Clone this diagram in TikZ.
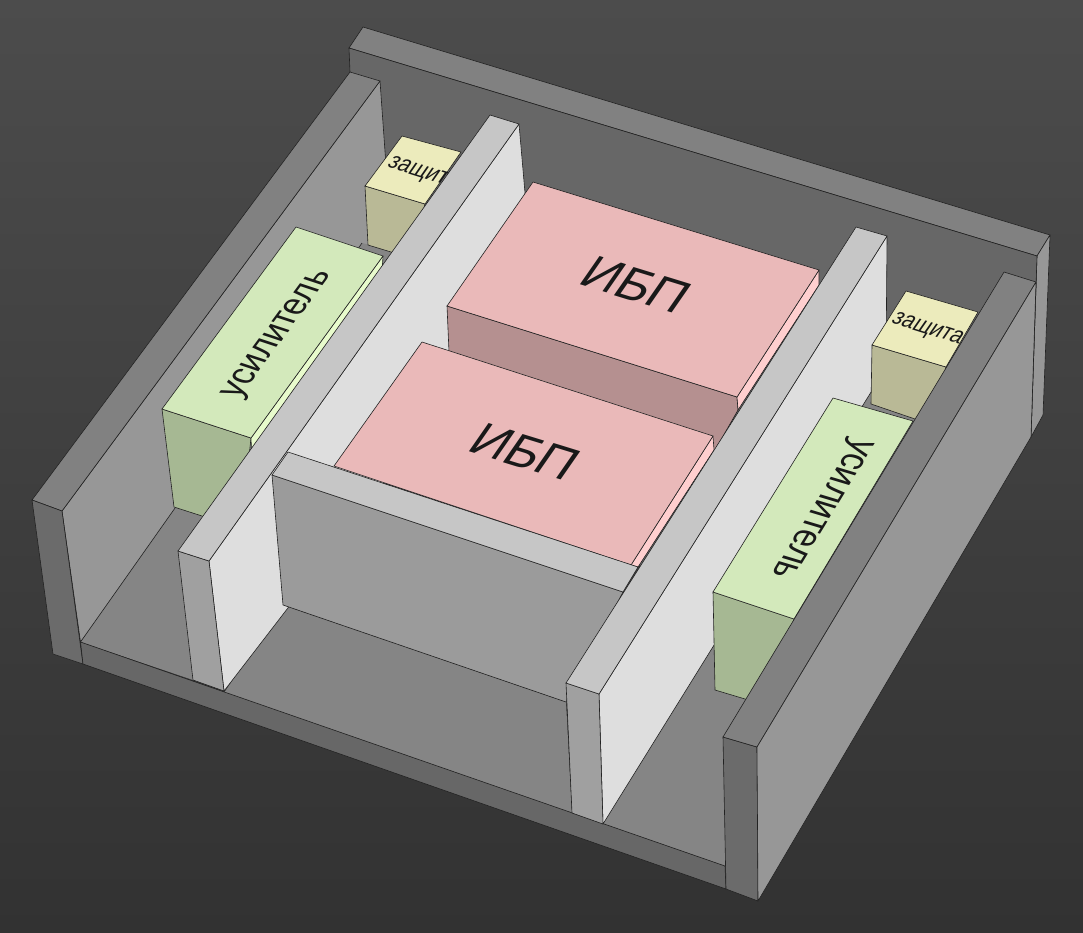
\documentclass[tikz,border=0pt]{standalone}
\usepackage{fontspec}
\setmainfont{Liberation Sans}
\definecolor{edgec}{HTML}{222222}
\definecolor{bgtop}{HTML}{4C4C4C}
\definecolor{bgbot}{HTML}{323232}
\definecolor{walltop}{HTML}{818181}
\definecolor{wallface}{HTML}{979797}
\definecolor{backface}{HTML}{676767}
\definecolor{floorc}{HTML}{858585}
\definecolor{strip}{HTML}{676767}
\definecolor{endface}{HTML}{6B6B6B}
\definecolor{parttop}{HTML}{C6C6C6}
\definecolor{partend}{HTML}{A0A0A0}
\definecolor{partside}{HTML}{DEDEDE}
\definecolor{crossface}{HTML}{9B9B9B}
\definecolor{pinktop}{HTML}{EAB9B9}
\definecolor{pinkside}{HTML}{FFCFCF}
\definecolor{pinkfront}{HTML}{B59090}
\definecolor{greentop}{HTML}{D3E9BB}
\definecolor{greenside}{HTML}{E8FBCC}
\definecolor{greenfront}{HTML}{A6B893}
\definecolor{yellowtop}{HTML}{ECEBBC}
\definecolor{yellowfront}{HTML}{B9B996}
\tikzset{
  face/.style={fill=#1,draw=edgec,line width=0.6pt,line join=round},
  blank/.style={fill=#1,draw=none},
  label3d/.style={transform shape,inner sep=0pt,text=black!90,font=#1}
}
\begin{document}
\begin{tikzpicture}[x=1pt,y=-1pt]
\useasboundingbox (0,0) rectangle (1083,932);
\shade[top color=bgtop,bottom color=bgbot] (0,0) rectangle (1083,932);
% back wall
\path[face=walltop] (349,48)--(363,27)--(1050,235)--(1037,256)--cycle;
\path[face=wallface] (1037,256)--(1050,235)--(1043,415)--(1031,437)--cycle;
\path[face=backface] (349,48)--(1037,256)--(1031,437)--(760,700)--(400,300)--(350,72)--cycle;
% left wall
\path[face=wallface] (62,511)--(380,81)--(392,250)--(80.5,642)--cycle;
\path[face=walltop] (32,500)--(350,72)--(380,81)--(62,511)--cycle;
\path[face=endface] (32,500)--(62,511)--(83,664)--(53,654)--cycle;
% floors
\path[blank=floorc] (80.5,642)--(362,243)--(400,253)--(193,680)--cycle;
\draw[edgec,line width=0.6pt] (80.5,642)--(362,243);
\path[blank=floorc] (283,605)--(566,702)--(572,815)--(224,693)--cycle;
\path[blank=floorc] (603,824)--(886,368)--(1031,400)--(725,866)--cycle;
% front strip
\path[face=strip] (80.5,642)--(725,866)--(726,889)--(83,664)--cycle;
% left protection box
\path[face=yellowfront] (365,186)--(425,204)--(410,260)--(391,252)--(368,245)--cycle;
\path[face=yellowtop] (402,136)--(461,152)--(425,204)--(365,186)--cycle;
\begin{scope}[cm={0.956,-0.30,0.68,0.98,(423,174)}]
  \node[label3d=\fontsize{21}{21}\selectfont] (prot1) {защита};
\end{scope}
% left amplifier
\path[face=greenfront] (162,409)--(251,438)--(240,540)--(202,516)--(174,507)--cycle;
\path[face=greenside] (383,256)--(251,438)--(252,460)--(382,272)--cycle;
\path[face=greentop] (296,227)--(383,256)--(251,438)--(162,409)--cycle;
\begin{scope}[cm={0.59,0.80,-1.09,0.36,(279,335)}]
  \node[label3d=\fontsize{33}{33}\selectfont] (amp1) {усилитель};
\end{scope}
% left partition
\path[face=partside] (209,561)--(519,124)--(525,193)--(525,300)--(224,691)--cycle;
\path[face=partend] (178,551)--(209,561)--(224,691)--(193,680)--cycle;
\path[face=parttop] (178,551)--(490,115)--(519,124)--(209,561)--cycle;
% rear UPS
\path[face=pinkfront] (447,306)--(737,397)--(738,410)--(714,452)--(449,352)--cycle;
\path[face=pinkside] (819,270)--(737,397)--(738,410)--(819,285)--cycle;
\path[face=pinktop] (533,182)--(819,270)--(737,397)--(447,306)--cycle;
\begin{scope}[cm={0.956,-0.294,0.57,0.82,(636,285)}]
  \node[label3d=\fontsize{50}{50}\selectfont] (ups1) {ИБП};
\end{scope}
% front UPS
\path[face=pinkside] (713,436)--(631,565)--(638,567)--(714,450)--cycle;
\path[face=pinktop] (422,342)--(713,436)--(631,565)--(334,466)--cycle;
\begin{scope}[cm={0.956,-0.294,0.57,0.82,(525,452)}]
  \node[label3d=\fontsize{50}{50}\selectfont] (ups2) {ИБП};
\end{scope}
% cross partition
\path[face=crossface] (272,475)--(623,592)--(566,702)--(283,605)--cycle;
\path[face=parttop] (288,452)--(638,567)--(623,592)--(272,475)--cycle;
% right partition
\path[face=partside] (599,694)--(887,236)--(886,368)--(603,824)--cycle;
\path[face=partend] (566,683)--(599,694)--(603,824)--(572,813)--cycle;
\path[face=parttop] (566,683)--(856,227)--(887,236)--(599,694)--cycle;
% right protection box
\path[face=yellowfront] (872,345)--(946,367)--(930,425)--(915,419)--(871,404)--cycle;
\path[face=yellowtop] (906,291)--(978,312)--(946,367)--(872,345)--cycle;
\begin{scope}[cm={0.956,-0.30,0.68,0.98,(927,330)}]
  \node[label3d=\fontsize{21}{21}\selectfont] (prot2) {защита};
\end{scope}
% right amplifier
\path[face=greenfront] (713,592)--(794,619)--(765,705)--(745,699)--(715,690)--cycle;
\path[face=greentop] (833,398)--(913,421)--(794,619)--(713,592)--cycle;
\begin{scope}[cm={-0.52,-0.85,1.10,-0.33,(820,508)}]
  \node[label3d=\fontsize{34}{34}\selectfont] (amp2) {усилитель};
\end{scope}
% right wall
\path[face=endface] (723,737)--(757,747)--(758,901)--(726,889)--cycle;
\path[face=walltop] (723,737)--(1004,272)--(1036,282)--(757,747)--cycle;
\path[face=wallface] (757,747)--(1036,282)--(1031,437)--(758,901)--cycle;
\end{tikzpicture}
\end{document}
